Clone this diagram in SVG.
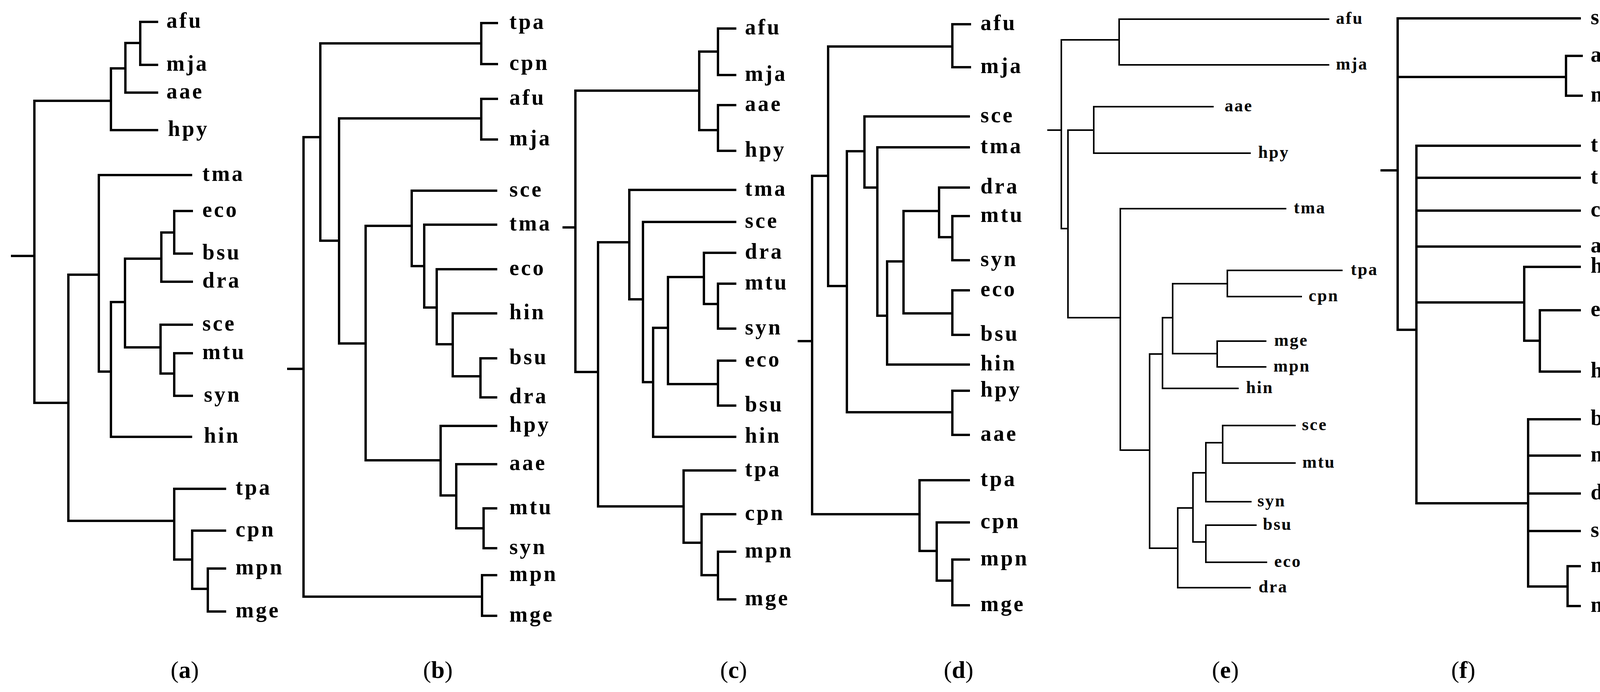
<svg xmlns="http://www.w3.org/2000/svg" width="4200" height="1771" viewBox="0 0 4200 1771">
<style>
.c{fill:none;stroke:#000;stroke-width:6;stroke-linecap:square}
.t{stroke-width:4}
text{font-family:"Liberation Serif","Times New Roman",serif;fill:#000}
.L{font-size:56px;font-weight:bold;letter-spacing:5px}
.S{font-size:44px;font-weight:bold;letter-spacing:3px}
.cap{font-size:62px;text-anchor:middle}
</style>
<rect width="4200" height="1771" fill="#fff"/>
<g id="connectors">
<path class="c" d="M31 655 H88 M88 258 V1031 M88 258 H284 M284 175 V333 M284 333 H402 M284 175 H321 M321 110 V237 M321 237 H402 M321 110 H359 M359 56 V166 M359 56 H402 M359 166 H402 M88 1031 H175 M175 703 V1333 M175 703 H253 M253 448 V951 M253 448 H489 M253 951 H284 M284 773 V1118 M284 1118 H489 M284 773 H320 M320 662 V889 M320 662 H413 M413 595 V721 M413 721 H491 M413 595 H446 M446 540 V649 M446 540 H491 M446 649 H491 M320 889 H411 M411 831 V956 M411 831 H491 M411 956 H446 M446 904 V1013 M446 904 H491 M446 1013 H491 M175 1333 H446 M446 1251 V1432 M446 1251 H576 M446 1432 H492 M492 1358 V1507 M492 1358 H576 M492 1507 H532 M532 1455 V1565 M532 1455 H576 M532 1565 H576"/>
<path class="c" d="M738 944 H777 M777 351 V1527 M777 351 H820 M820 111 V616 M820 111 H1232 M1232 59 V164 M1232 59 H1272 M1232 164 H1272 M820 616 H868 M868 303 V879 M868 303 H1232 M1232 253 V357 M1232 253 H1272 M1232 357 H1272 M868 879 H936 M936 578 V1178 M936 578 H1054 M1054 488 V681 M1054 488 H1270 M1054 681 H1086 M1086 575 V787 M1086 575 H1270 M1086 787 H1118 M1118 689 V881 M1118 689 H1270 M1118 881 H1159 M1159 802 V963 M1159 802 H1270 M1159 963 H1230 M1230 917 V1017 M1230 917 H1270 M1230 1017 H1270 M936 1178 H1128 M1128 1090 V1268 M1128 1090 H1270 M1128 1268 H1168 M1168 1188 V1352 M1168 1188 H1270 M1168 1352 H1238 M1238 1301 V1403 M1238 1301 H1270 M1238 1403 H1270 M777 1527 H1234 M1234 1472 V1576 M1234 1472 H1270 M1234 1576 H1270"/>
<path class="c" d="M1443 582 H1473 M1473 232 V952 M1473 232 H1790 M1790 132 V333 M1790 132 H1838 M1838 73 V192 M1838 73 H1882 M1838 192 H1882 M1790 333 H1838 M1838 269 V386 M1838 269 H1882 M1838 386 H1882 M1473 952 H1531 M1531 620 V1296 M1531 620 H1611 M1611 486 V766 M1611 486 H1882 M1611 766 H1646 M1646 568 V978 M1646 568 H1882 M1646 978 H1672 M1672 839 V1118 M1672 1118 H1882 M1672 839 H1710 M1710 709 V983 M1710 709 H1802 M1802 647 V778 M1802 647 H1882 M1802 778 H1838 M1838 726 V841 M1838 726 H1882 M1838 841 H1882 M1710 983 H1838 M1838 923 V1038 M1838 923 H1882 M1838 1038 H1882 M1531 1296 H1750 M1750 1204 V1389 M1750 1204 H1882 M1750 1389 H1796 M1796 1316 V1472 M1796 1316 H1882 M1796 1472 H1838 M1838 1412 V1534 M1838 1412 H1882 M1838 1534 H1882"/>
<path class="c" d="M2045 873 H2079 M2079 450 V1316 M2079 450 H2120 M2120 119 V732 M2120 119 H2438 M2438 62 V172 M2438 62 H2483 M2438 172 H2483 M2120 732 H2168 M2168 387 V1055 M2168 387 H2213 M2213 298 V480 M2213 298 H2480 M2213 480 H2246 M2246 377 V808 M2246 377 H2480 M2246 808 H2271 M2271 669 V933 M2271 933 H2480 M2271 669 H2313 M2313 540 V802 M2313 540 H2404 M2404 480 V607 M2404 480 H2480 M2404 607 H2438 M2438 553 V666 M2438 553 H2480 M2438 666 H2480 M2313 802 H2438 M2438 743 V857 M2438 743 H2480 M2438 857 H2480 M2168 1055 H2438 M2438 1000 V1113 M2438 1000 H2480 M2438 1113 H2480 M2079 1316 H2354 M2354 1229 V1410 M2354 1229 H2480 M2354 1410 H2398 M2398 1337 V1486 M2398 1337 H2480 M2398 1486 H2438 M2438 1432 V1549 M2438 1432 H2480 M2438 1549 H2480"/>
<path class="c t" d="M2683 333 H2717 M2717 102 V585 M2717 102 H2865 M2865 49 V166 M2865 49 H3401 M2865 166 H3401 M2717 585 H2734 M2734 333 V813 M2734 333 H2800 M2800 273 V392 M2800 273 H3105 M2800 392 H3200 M2734 813 H2868 M2868 534 V1152 M2868 534 H3291 M2868 1152 H2943 M2943 906 V1403 M2943 906 H2976 M2976 813 V994 M2976 994 H3169 M2976 813 H3002 M3002 726 V905 M3002 726 H3142 M3142 692 V759 M3142 692 H3435 M3142 759 H3331 M3002 905 H3116 M3116 873 V939 M3116 873 H3240 M3116 939 H3240 M2943 1403 H3015 M3015 1300 V1504 M3015 1504 H3200 M3015 1300 H3054 M3054 1210 V1387 M3054 1210 H3087 M3087 1133 V1284 M3087 1284 H3202 M3087 1133 H3130 M3130 1089 V1185 M3130 1089 H3315 M3130 1185 H3315 M3054 1387 H3087 M3087 1344 V1439 M3087 1344 H3215 M3087 1439 H3242"/>
<path class="c" d="M3537 436 H3578 M3578 47 V844 M3578 47 H4044 M3578 197 H4009 M4009 143 V245 M4009 143 H4049 M4009 245 H4049 M3578 844 H3626 M3626 373 V1288 M3626 373 H4044 M3626 455 H4044 M3626 539 H4044 M3626 631 H4044 M3626 774 H3902 M3902 683 V872 M3902 683 H4044 M3902 872 H3942 M3942 794 V951 M3942 794 H4044 M3942 951 H4044 M3626 1288 H3912 M3912 1073 V1501 M3912 1073 H4044 M3912 1166 H4044 M3912 1263 H4044 M3912 1359 H4044 M3912 1501 H4013 M4013 1449 V1551 M4013 1449 H4044 M4013 1551 H4044"/>
</g>
<g id="panel-a" class="L">
<g id="a-afu"><text x="426" y="71">afu</text></g>
<g id="a-mja"><text x="426" y="181">mja</text></g>
<g id="a-aae"><text x="426" y="252">aae</text></g>
<g id="a-hpy"><text x="430" y="348">hpy</text></g>
<g id="a-tma"><text x="518" y="463">tma</text></g>
<g id="a-eco"><text x="518" y="555">eco</text></g>
<g id="a-bsu"><text x="518" y="664">bsu</text></g>
<g id="a-dra"><text x="518" y="736">dra</text></g>
<g id="a-sce"><text x="518" y="846">sce</text></g>
<g id="a-mtu"><text x="518" y="919">mtu</text></g>
<g id="a-syn"><text x="522" y="1028">syn</text></g>
<g id="a-hin"><text x="522" y="1133">hin</text></g>
<g id="a-tpa"><text x="603" y="1266">tpa</text></g>
<g id="a-cpn"><text x="603" y="1373">cpn</text></g>
<g id="a-mpn"><text x="603" y="1470">mpn</text></g>
<g id="a-mge"><text x="603" y="1580">mge</text></g>
</g>
<g id="panel-b" class="L">
<g id="b-tpa"><text x="1304" y="74">tpa</text></g>
<g id="b-cpn"><text x="1304" y="179">cpn</text></g>
<g id="b-afu"><text x="1304" y="268">afu</text></g>
<g id="b-mja"><text x="1304" y="372">mja</text></g>
<g id="b-sce"><text x="1304" y="503">sce</text></g>
<g id="b-tma"><text x="1304" y="590">tma</text></g>
<g id="b-eco"><text x="1304" y="704">eco</text></g>
<g id="b-hin"><text x="1304" y="817">hin</text></g>
<g id="b-bsu"><text x="1304" y="932">bsu</text></g>
<g id="b-dra"><text x="1304" y="1032">dra</text></g>
<g id="b-hpy"><text x="1304" y="1105">hpy</text></g>
<g id="b-aae"><text x="1304" y="1203">aae</text></g>
<g id="b-mtu"><text x="1304" y="1316">mtu</text></g>
<g id="b-syn"><text x="1304" y="1418">syn</text></g>
<g id="b-mpn"><text x="1304" y="1487">mpn</text></g>
<g id="b-mge"><text x="1304" y="1591">mge</text></g>
</g>
<g id="panel-c" class="L">
<g id="c-afu"><text x="1907" y="88">afu</text></g>
<g id="c-mja"><text x="1907" y="207">mja</text></g>
<g id="c-aae"><text x="1907" y="284">aae</text></g>
<g id="c-hpy"><text x="1907" y="401">hpy</text></g>
<g id="c-tma"><text x="1907" y="501">tma</text></g>
<g id="c-sce"><text x="1907" y="583">sce</text></g>
<g id="c-dra"><text x="1907" y="662">dra</text></g>
<g id="c-mtu"><text x="1907" y="741">mtu</text></g>
<g id="c-syn"><text x="1907" y="856">syn</text></g>
<g id="c-eco"><text x="1907" y="938">eco</text></g>
<g id="c-bsu"><text x="1907" y="1053">bsu</text></g>
<g id="c-hin"><text x="1907" y="1133">hin</text></g>
<g id="c-tpa"><text x="1907" y="1219">tpa</text></g>
<g id="c-cpn"><text x="1907" y="1331">cpn</text></g>
<g id="c-mpn"><text x="1907" y="1427">mpn</text></g>
<g id="c-mge"><text x="1907" y="1549">mge</text></g>
</g>
<g id="panel-d" class="L">
<g id="d-afu"><text x="2510" y="77">afu</text></g>
<g id="d-mja"><text x="2510" y="187">mja</text></g>
<g id="d-sce"><text x="2510" y="313">sce</text></g>
<g id="d-tma"><text x="2510" y="392">tma</text></g>
<g id="d-dra"><text x="2510" y="495">dra</text></g>
<g id="d-mtu"><text x="2510" y="568">mtu</text></g>
<g id="d-syn"><text x="2510" y="681">syn</text></g>
<g id="d-eco"><text x="2510" y="758">eco</text></g>
<g id="d-bsu"><text x="2510" y="872">bsu</text></g>
<g id="d-hin"><text x="2510" y="948">hin</text></g>
<g id="d-hpy"><text x="2510" y="1015">hpy</text></g>
<g id="d-aae"><text x="2510" y="1128">aae</text></g>
<g id="d-tpa"><text x="2510" y="1244">tpa</text></g>
<g id="d-cpn"><text x="2510" y="1352">cpn</text></g>
<g id="d-mpn"><text x="2510" y="1447">mpn</text></g>
<g id="d-mge"><text x="2510" y="1564">mge</text></g>
</g>
<g id="panel-e" class="S">
<g id="e-afu"><text x="3420" y="61">afu</text></g>
<g id="e-mja"><text x="3420" y="178">mja</text></g>
<g id="e-aae"><text x="3135" y="285">aae</text></g>
<g id="e-hpy"><text x="3221" y="404">hpy</text></g>
<g id="e-tma"><text x="3312" y="546">tma</text></g>
<g id="e-tpa"><text x="3458" y="704">tpa</text></g>
<g id="e-cpn"><text x="3350" y="771">cpn</text></g>
<g id="e-mge"><text x="3262" y="885">mge</text></g>
<g id="e-mpn"><text x="3260" y="951">mpn</text></g>
<g id="e-hin"><text x="3190" y="1006">hin</text></g>
<g id="e-sce"><text x="3333" y="1101">sce</text></g>
<g id="e-mtu"><text x="3334" y="1197">mtu</text></g>
<g id="e-syn"><text x="3219" y="1296">syn</text></g>
<g id="e-bsu"><text x="3233" y="1356">bsu</text></g>
<g id="e-eco"><text x="3262" y="1451">eco</text></g>
<g id="e-dra"><text x="3222" y="1516">dra</text></g>
</g>
<g id="panel-f" class="L">
<g id="f-sce"><text x="4072" y="62">sce</text></g>
<g id="f-afu"><text x="4072" y="158">afu</text></g>
<g id="f-mja"><text x="4072" y="260">mja</text></g>
<g id="f-tpa"><text x="4072" y="388">tpa</text></g>
<g id="f-tma"><text x="4072" y="470">tma</text></g>
<g id="f-cpn"><text x="4072" y="554">cpn</text></g>
<g id="f-aae"><text x="4072" y="646">aae</text></g>
<g id="f-hpy"><text x="4072" y="698">hpy</text></g>
<g id="f-eco"><text x="4072" y="809">eco</text></g>
<g id="f-hin"><text x="4072" y="966">hin</text></g>
<g id="f-bsu"><text x="4072" y="1088">bsu</text></g>
<g id="f-mtu"><text x="4072" y="1181">mtu</text></g>
<g id="f-dra"><text x="4072" y="1278">dra</text></g>
<g id="f-syn"><text x="4072" y="1374">syn</text></g>
<g id="f-mpn"><text x="4072" y="1464">mpn</text></g>
<g id="f-mge"><text x="4072" y="1566">mge</text></g>
</g>
<g id="captions" class="cap">
<text x="473" y="1735">(<tspan font-weight="bold">a</tspan>)</text>
<text x="1121" y="1735">(<tspan font-weight="bold">b</tspan>)</text>
<text x="1878" y="1735">(<tspan font-weight="bold">c</tspan>)</text>
<text x="2454" y="1735">(<tspan font-weight="bold">d</tspan>)</text>
<text x="3137" y="1735">(<tspan font-weight="bold">e</tspan>)</text>
<text x="3746" y="1735">(<tspan font-weight="bold">f</tspan>)</text>
</g>
</svg>
